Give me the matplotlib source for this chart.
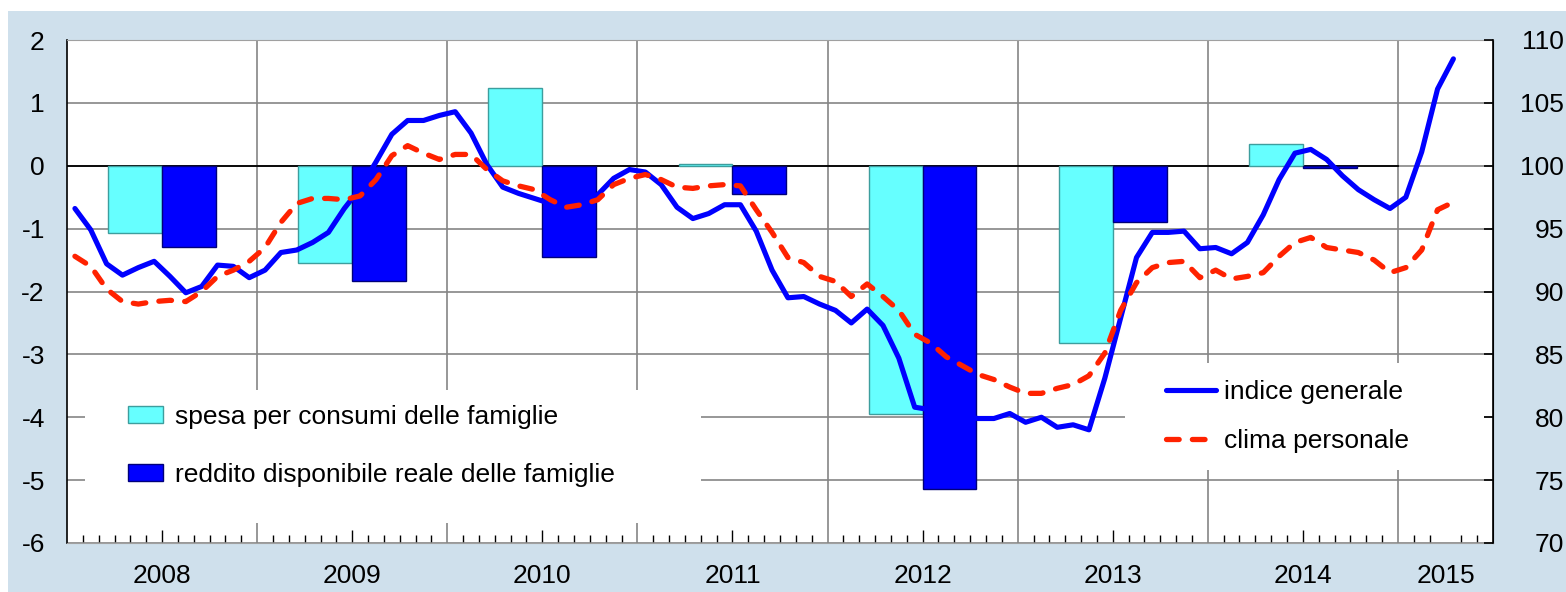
import numpy as np
import matplotlib.pyplot as plt
from matplotlib.patches import Rectangle

plt.rcParams['font.family'] = ['Liberation Sans', 'DejaVu Sans']
plt.rcParams['axes.unicode_minus'] = False

# annual data (left axis, % changes)
years = [2008, 2009, 2010, 2011, 2012, 2013, 2014, 2015]
bar_years = years[:-1]
spesa = [-1.07, -1.55, 1.24, 0.02, -3.95, -2.82, 0.35]
reddito = [-1.29, -1.83, -1.45, -0.45, -5.14, -0.89, -0.03]

# monthly data Jan 2008 - Apr 2015 (right axis, index)
indice_generale = [96.6, 94.9, 92.2, 91.3, 91.9, 92.4, 91.2, 89.9, 90.4, 92.1, 92.0, 91.1,
                   91.7, 93.1, 93.3, 93.9, 94.7, 96.6, 98.2, 100.3, 102.5, 103.6, 103.6, 104.0,
                   104.3, 102.6, 100.1, 98.3, 97.8, 97.4, 97.0, 96.9, 97.2, 97.7, 99.0, 99.7,
                   99.5, 98.5, 96.7, 95.8, 96.2, 96.9, 96.9, 94.8, 91.7, 89.5, 89.6, 89.0,
                   88.5, 87.5, 88.6, 87.3, 84.7, 80.8, 80.6, 80.3, 80.1, 79.9, 79.9, 80.3,
                   79.6, 80.0, 79.2, 79.4, 79.0, 83.1, 87.9, 92.7, 94.7, 94.7, 94.8, 93.4,
                   93.5, 93.0, 93.9, 96.1, 98.9, 101.0, 101.3, 100.5, 99.2, 98.1, 97.3, 96.6,
                   97.5, 101.1, 106.1, 108.5]
clima_personale = [92.8, 92.0, 90.2, 89.2, 89.0, 89.2, 89.3, 89.2, 90.0, 91.2, 91.7, 92.4,
                   93.5, 95.5, 97.0, 97.4, 97.4, 97.3, 97.6, 98.9, 100.8, 101.6, 101.0, 100.5,
                   100.9, 100.9, 99.7, 98.8, 98.4, 98.1, 97.3, 96.7, 96.9, 97.3, 98.5, 99.0,
                   99.3, 98.9, 98.3, 98.2, 98.4, 98.5, 98.4, 96.5, 94.7, 92.7, 92.3, 91.2,
                   90.8, 89.6, 90.6, 89.6, 88.5, 86.6, 85.9, 84.8, 84.1, 83.4, 83.0, 82.4,
                   81.9, 81.9, 82.3, 82.6, 83.3, 85.1, 88.5, 90.7, 91.9, 92.3, 92.4, 91.1,
                   91.7, 91.0, 91.2, 91.5, 92.8, 93.9, 94.3, 93.5, 93.3, 93.1, 92.5, 91.5,
                   91.9, 93.3, 96.5, 97.1]

W, H = 1566, 592
fig = plt.figure(figsize=(W / 100, H / 100), dpi=100, facecolor='white')
fig.patches.append(Rectangle((8 / W, 0), 1, (H - 11) / H, transform=fig.transFigure,
                             facecolor='#cfe0ec', edgecolor='none', zorder=-10))
ax = fig.add_axes([67 / W, 49 / H, 1426 / W, 503 / H])
ax.set_facecolor('white')

n_months = 90
mid = np.arange(len(bar_years)) * 12 + 6
ax.bar(mid - 1.7, spesa, width=3.4, color='#66ffff', edgecolor='#3d9e9e', linewidth=1,
       zorder=2, label='spesa per consumi delle famiglie')
ax.bar(mid + 1.7, reddito, width=3.4, color='#0000ff', edgecolor='#00007a', linewidth=1,
       zorder=2, label='reddito disponibile reale delle famiglie')

ax.set_xlim(0, n_months)
ax.set_ylim(-6, 2)
ax.set_yticks(range(-6, 3))
ax.set_axisbelow(True)
ax.grid(axis='y', color='#858585', lw=1.2)
for k in range(1, len(years)):
    ax.axvline(12 * k, color='#858585', lw=1.2, zorder=0.6)
ax.axhline(0, xmax=84 / n_months, color='black', lw=1.3, zorder=0.7)

# white boxes behind the legends
ax.add_patch(Rectangle((0.0126, 0.040), 0.432, 0.264, transform=ax.transAxes,
                       facecolor='white', edgecolor='none', zorder=1))
ax.add_patch(Rectangle((0.742, 0.145), 0.252, 0.213, transform=ax.transAxes,
                       facecolor='white', edgecolor='none', zorder=1))

label_pos = list(mid) + [87]
ax.set_xticks(label_pos, [str(y) for y in years])
ax.set_xticks([m for m in range(1, n_months) if m % 6 != 0], minor=True)
ax.tick_params(axis='x', which='major', direction='in', length=9.5, width=1, pad=15, labelsize=19)
ax.tick_params(axis='x', which='minor', direction='in', length=5.8, width=1)
ax.xaxis.get_major_ticks()[-1].tick1line.set_visible(False)
ax.tick_params(axis='y', length=0, pad=16, labelsize=19)
ax.spines['top'].set_color('#a0a0a0')
ax.spines['bottom'].set_color('#a0a0a0')
ax.spines['left'].set_linewidth(1.2)

ax.legend(loc='upper left', bbox_to_anchor=(0.0428, 0.275), frameon=False, fontsize=19,
          handlelength=1.33, handleheight=0.61, handletextpad=0.45, labelspacing=1.3,
          borderpad=0, borderaxespad=0)

ax2 = ax.twinx()
months = np.arange(len(indice_generale)) + 0.5
ax2.plot(months, indice_generale, color='#0000ff', lw=3.7, label='indice generale',
         solid_capstyle='round', zorder=3)
ax2.plot(months, clima_personale, color='#ff2200', lw=3.8, dashes=(2.4, 2.5),
         dash_capstyle='round', label='clima personale', zorder=3)
ax2.set_ylim(70, 110)
ax2.set_yticks(range(70, 111, 5))
ax2.tick_params(axis='y', direction='in', length=6.5, width=1.2, pad=51, labelsize=19)
plt.setp(ax2.get_yticklabels(), ha='right')
for s in ['top', 'bottom', 'left']:
    ax2.spines[s].set_visible(False)
ax2.spines['right'].set_linewidth(1.2)

ax2.legend(loc='upper left', bbox_to_anchor=(0.7707, 0.324), frameon=False, fontsize=19,
           handlelength=1.9, handletextpad=0.3, labelspacing=0.95,
           borderpad=0, borderaxespad=0)

fig.savefig('out.png', dpi=100)
